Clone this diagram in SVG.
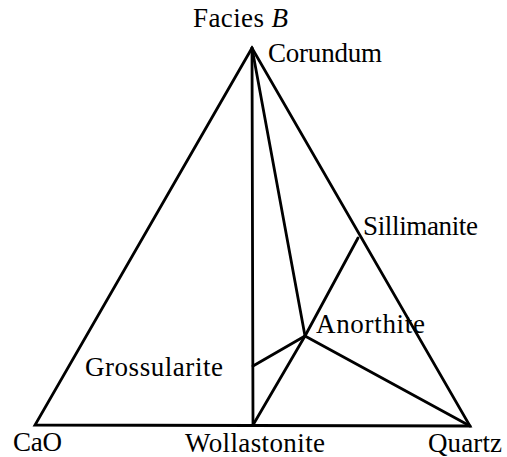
<svg xmlns="http://www.w3.org/2000/svg" width="507" height="457" viewBox="0 0 507 457">
<style>
.l{stroke:#000;stroke-width:2.8;fill:none;stroke-linejoin:miter;stroke-linecap:round}
text{font-family:"Liberation Serif","Times New Roman",serif;font-size:27px;fill:#000}
</style>
<rect width="507" height="457" fill="#fff"/>
<g id="connectors">
<polygon class="l" points="252,48 35,425 470,426"/>
<line class="l" x1="252" y1="48" x2="253" y2="425"/>
<line class="l" x1="252" y1="48" x2="305" y2="336"/>
<line class="l" x1="358" y1="238" x2="305" y2="336"/>
<line class="l" x1="305" y1="336" x2="253" y2="425"/>
<line class="l" x1="305" y1="336" x2="470" y2="426"/>
<line class="l" x1="305" y1="336" x2="253" y2="366"/>
</g>
<g id="title"><text x="193" y="27" textLength="95">Facies <tspan font-style="italic">B</tspan></text></g>
<g id="corundum"><text x="268" y="62" textLength="114">Corundum</text></g>
<g id="sillimanite"><text x="363" y="235" textLength="115">Sillimanite</text></g>
<g id="anorthite"><text x="316" y="333" textLength="109">Anorthite</text></g>
<g id="grossularite"><text x="85" y="376" textLength="138">Grossularite</text></g>
<g id="cao"><text x="13" y="451" textLength="49">CaO</text></g>
<g id="wollastonite"><text x="185" y="452" textLength="140">Wollastonite</text></g>
<g id="quartz"><text x="428" y="452" textLength="74">Quartz</text></g>
</svg>
